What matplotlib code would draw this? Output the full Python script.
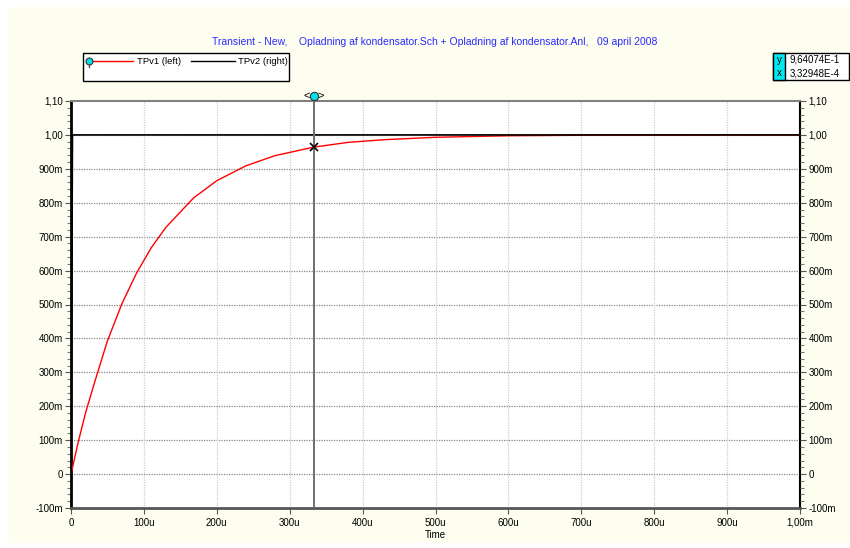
import matplotlib
matplotlib.use("Agg")
import matplotlib.pyplot as plt
from matplotlib.patches import Rectangle
from matplotlib.ticker import MultipleLocator

plt.rcParams['font.family'] = ['Liberation Sans', 'DejaVu Sans']

# TPv1 (left): capacitor voltage (time in s, V)
tpv1_t = [0, 10e-6, 20e-6, 33e-6, 50e-6, 70e-6, 90e-6, 110e-6, 130e-6, 168e-6,
          200e-6, 240e-6, 280e-6, 333e-6, 380e-6, 430e-6, 500e-6, 600e-6,
          700e-6, 850e-6, 1000e-6]
tpv1_v = [0, 0.095, 0.181, 0.275, 0.393, 0.503, 0.593, 0.667, 0.727, 0.814,
          0.865, 0.909, 0.939, 0.964, 0.978, 0.986, 0.993, 0.9975,
          0.999, 0.9998, 1.0]
# TPv2 (right): source step
tpv2_t = [0, 2e-6, 1000e-6]
tpv2_v = [0, 1.0, 1.0]

cursor_x = 3.32948e-4
cursor_y = 9.64074e-1

y_ticks = [-0.1, 0, 0.1, 0.2, 0.3, 0.4, 0.5, 0.6, 0.7, 0.8, 0.9, 1.0, 1.1]
y_labels = ['-100m', '0', '100m', '200m', '300m', '400m', '500m', '600m',
            '700m', '800m', '900m', '1,00', '1,10']
x_ticks = [0, 100e-6, 200e-6, 300e-6, 400e-6, 500e-6, 600e-6, 700e-6,
           800e-6, 900e-6, 1000e-6]
x_labels = ['0', '100u', '200u', '300u', '400u', '500u', '600u', '700u',
            '800u', '900u', '1,00m']

W, H = 850, 548
fig = plt.figure(figsize=(W / 100, H / 100), dpi=100, facecolor='white')
bg = '#FEFEF0'
fig.patches.append(Rectangle((8 / W, 5 / H), (W - 8) / W, (H - 12) / H,
                             transform=fig.transFigure, facecolor=bg,
                             edgecolor='none', zorder=-10))

def fx(px):
    return px / W

def fy(py):
    return 1 - py / H

ax = fig.add_axes([fx(71), fy(508), fx(800) - fx(71), fy(101) - fy(508)])
ax.set_facecolor('white')
ax.set_xlim(0, 1e-3)
ax.set_ylim(-0.1, 1.1)

ax.set_yticks(y_ticks)
ax.set_yticklabels(y_labels)
ax.set_xticks(x_ticks)
ax.set_xticklabels(x_labels)
ax.yaxis.set_minor_locator(MultipleLocator(0.02))
ax.tick_params(axis='both', labelsize=7, color='#555555', length=4, width=0.8, pad=2)
ax.tick_params(axis='y', which='minor', length=3, color='#777777', width=0.8)
ax.tick_params(axis='x', labelsize=7, pad=3)

for y in y_ticks[1:-1]:
    ax.axhline(y, color='#888888', lw=0.9, ls=(0, (1, 1)), zorder=1)
for x in x_ticks[1:-1]:
    ax.axvline(x, color='#CCCCCC', lw=0.9, ls=(0, (1, 1)), zorder=1)

ax.spines['left'].set_linewidth(2)
ax.spines['left'].set_color('black')
ax.spines['bottom'].set_linewidth(2)
ax.spines['bottom'].set_color('#555555')
ax.spines['top'].set_linewidth(1.5)
ax.spines['top'].set_color('#808080')
ax.spines['right'].set_linewidth(1.5)
ax.spines['right'].set_color('black')

ax.plot(tpv1_t, tpv1_v, color='red', lw=1, zorder=3)

ax2 = ax.twinx()
ax2.set_ylim(-0.1, 1.1)
ax2.set_yticks(y_ticks)
ax2.set_yticklabels(y_labels)
ax2.yaxis.set_minor_locator(MultipleLocator(0.02))
ax2.tick_params(axis='y', labelsize=7, color='#555555', length=4, width=0.8, pad=2)
ax2.tick_params(axis='y', which='minor', length=3, color='#777777', width=0.8)
for s in ax2.spines.values():
    s.set_visible(False)
ax2.plot(tpv2_t, tpv2_v, color='black', lw=1.2, zorder=3)

# cursor
ax2.axvline(cursor_x, color='#707070', lw=1.4, zorder=4)
ax2.plot([cursor_x], [cursor_y], marker='x', color='black', ms=6, mew=1.2, zorder=5)
ax2.plot([cursor_x], [1.115], marker='o', color='#00E0E8', mec='#333333', ms=6,
         mew=0.8, clip_on=False, zorder=6)
ax2.text(cursor_x - 5e-6, 1.115, '<', ha='right', va='center', fontsize=8, clip_on=False)
ax2.text(cursor_x + 5e-6, 1.115, '>', ha='left', va='center', fontsize=8, clip_on=False)

ax.set_xlabel('Time', fontsize=7, labelpad=2)

fig.text(fx(435), fy(42), 'Transient - New,    Opladning af kondensator.Sch + Opladning af kondensator.Anl,   09 april 2008',
         ha='center', va='center', color='#2A2AFF', fontsize=7.5)

# legend box
fig.patches.append(Rectangle((fx(83), fy(81)), fx(289) - fx(83), fy(53) - fy(81),
                             transform=fig.transFigure, facecolor='white',
                             edgecolor='black', lw=1))
fig.lines.append(plt.Line2D([fx(89), fx(133)], [fy(61), fy(61)], transform=fig.transFigure,
                            color='red', lw=1))
fig.lines.append(plt.Line2D([fx(89), fx(89)], [fy(61), fy(67)], transform=fig.transFigure,
                            color='#555555', lw=1))
fig.lines.append(plt.Line2D([fx(89)], [fy(61)], transform=fig.transFigure, marker='o',
                            color='#00E0E8', mec='#333333', ms=5, mew=0.8))
fig.text(fx(137), fy(61), 'TPv1 (left)', ha='left', va='center', fontsize=6.8)
fig.lines.append(plt.Line2D([fx(191), fx(235)], [fy(61), fy(61)], transform=fig.transFigure,
                            color='black', lw=1))
fig.text(fx(238), fy(61), 'TPv2 (right)', ha='left', va='center', fontsize=6.8)

# cursor readout box
fig.patches.append(Rectangle((fx(773), fy(80)), fx(849) - fx(773), fy(53) - fy(80),
                             transform=fig.transFigure, facecolor='white',
                             edgecolor='black', lw=1))
fig.patches.append(Rectangle((fx(773), fy(80)), fx(785) - fx(773), fy(53) - fy(80),
                             transform=fig.transFigure, facecolor='#00E8F0',
                             edgecolor='black', lw=1))
fig.text(fx(779), fy(60), 'y', ha='center', va='center', fontsize=7)
fig.text(fx(779), fy(73), 'x', ha='center', va='center', fontsize=7)
fig.text(fx(790), fy(60), '9,64074E-1', ha='left', va='center', fontsize=7)
fig.text(fx(790), fy(73), '3,32948E-4', ha='left', va='center', fontsize=7)

fig.savefig('out.png', dpi=100, facecolor=fig.get_facecolor())
